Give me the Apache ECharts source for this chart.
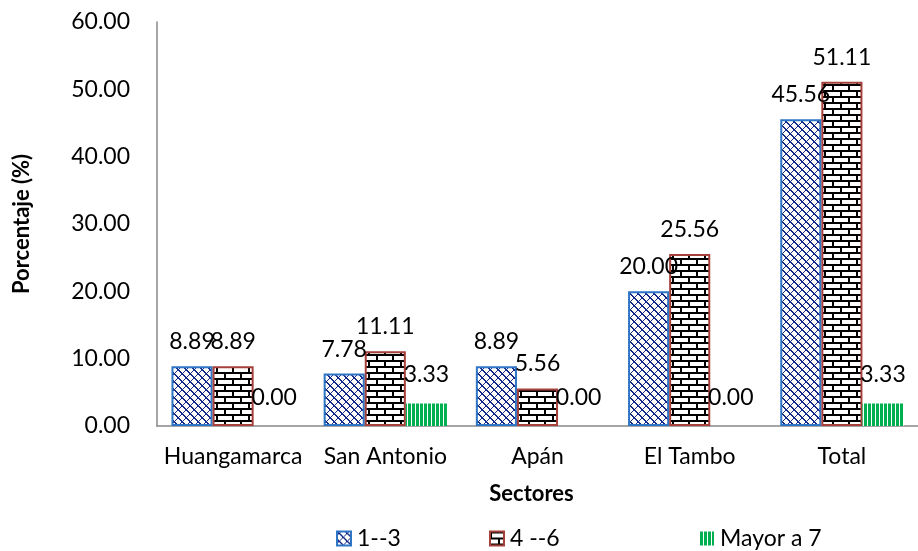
<!DOCTYPE html>
<html>
<head>
<meta charset="utf-8">
<script src="https://cdn.jsdelivr.net/npm/echarts@6/dist/echarts.min.js"></script>
<style>
  html, body { margin: 0; padding: 0; background: #fff; }
  #main { width: 918px; height: 551px; }
</style>
</head>
<body>
<div id="main"></div>
<script>
var sectores = ['Huangamarca', 'San Antonio', 'Apán', 'El Tambo', 'Total'];
var serie13 = [8.89, 7.78, 8.89, 20.00, 45.56];
var serie46 = [8.89, 11.11, 5.56, 25.56, 51.11];
var serieMayor7 = [0.00, 3.33, 0.00, 0.00, 3.33];
var yTicks = [0, 10, 20, 30, 40, 50, 60];
var legendNames = ['1--3', '4 --6', 'Mayor a 7'];

// patterns
function zigzag() {
    var c = document.createElement('canvas');
    c.width = 8; c.height = 8;
    var g = c.getContext('2d');
    g.fillStyle = '#fff'; g.fillRect(0, 0, 8, 8);
    g.fillStyle = '#142a86';
    // diagonal steps in both directions, woven look
    for (var i = 0; i < 8; i++) {
        g.fillRect(i, i, 1, 1);
        g.fillRect((i + 1) % 8, i, 1, 1);
        g.fillRect((7 - i + 4) % 8, i, 1, 1);
    }
    return c;
}
function brick() {
    var c = document.createElement('canvas');
    c.width = 16; c.height = 12;
    var g = c.getContext('2d');
    g.fillStyle = '#fff'; g.fillRect(0, 0, 16, 12);
    g.fillStyle = '#000';
    g.fillRect(0, 0, 16, 2);
    g.fillRect(0, 6, 16, 2);
    g.fillRect(0, 0, 2, 6);
    g.fillRect(8, 6, 2, 6);
    return c;
}
function stripes() {
    var c = document.createElement('canvas');
    c.width = 4; c.height = 4;
    var g = c.getContext('2d');
    g.fillStyle = '#fff'; g.fillRect(0, 0, 4, 4);
    g.fillStyle = '#00b050';
    g.fillRect(0, 0, 3, 4);
    return c;
}

var FONT = 'Lato';
var FS = 23;
function labelStyle(dist) {
    return {
        show: true, position: 'top', distance: dist,
        fontSize: FS, color: '#000', fontFamily: FONT,
        formatter: function (p) { return p.value.toFixed(2); }
    };
}

var legendLeft = [331, 484, 695];
var legends = legendNames.map(function (n, i) {
    return {
        data: [n], left: legendLeft[i], top: 522,
        itemWidth: 14, itemHeight: 14, icon: 'rect', itemGap: 0,
        textStyle: {fontSize: FS, color: '#000', fontFamily: FONT, padding: [0, 0, 0, 1]}
    };
});

var chart = echarts.init(document.getElementById('main'), null, {renderer: 'canvas'});
chart.setOption({
    animation: false,
    textStyle: {fontFamily: FONT},
    grid: {left: 157, right: -12, top: 22, bottom: 125},
    legend: legends,
    xAxis: {
        type: 'category', data: sectores,
        name: 'Sectores', nameLocation: 'middle', nameGap: 57,
        nameTextStyle: {fontSize: FS - 1, fontWeight: 'bold', color: '#000', padding: [0, 0, 0, -12]},
        axisLine: {lineStyle: {color: '#888', width: 1.5}},
        axisTick: {show: false},
        axisLabel: {fontSize: FS, color: '#000', margin: 19, interval: 0, hideOverlap: false}
    },
    yAxis: {
        type: 'value', min: yTicks[0], max: yTicks[yTicks.length - 1], interval: 10,
        name: 'Porcentaje (%)', nameLocation: 'middle', nameGap: 124,
        nameTextStyle: {fontSize: FS - 1, fontWeight: 'bold', color: '#000'},
        axisLine: {show: true, lineStyle: {color: '#888', width: 1.5}},
        axisTick: {show: false},
        splitLine: {show: false},
        axisLabel: {fontSize: FS, color: '#000', margin: 27,
            formatter: function (v) { return v.toFixed(2); }}
    },
    series: [
        {
            name: legendNames[0], type: 'bar', data: serie13,
            barGap: '0%', barCategoryGap: '19%',
            itemStyle: {color: {image: zigzag(), repeat: 'repeat'}, borderColor: '#2e75c6', borderWidth: 2},
            label: labelStyle(13)
        },
        {
            name: legendNames[1], type: 'bar', data: serie46,
            itemStyle: {color: {image: brick(), repeat: 'repeat'}, borderColor: '#a5403b', borderWidth: 2},
            label: labelStyle(13)
        },
        {
            name: legendNames[2], type: 'bar', data: serieMayor7,
            itemStyle: {color: {image: stripes(), repeat: 'repeat'}, borderWidth: 0},
            label: labelStyle(17)
        }
    ]
});
</script>
</body>
</html>
